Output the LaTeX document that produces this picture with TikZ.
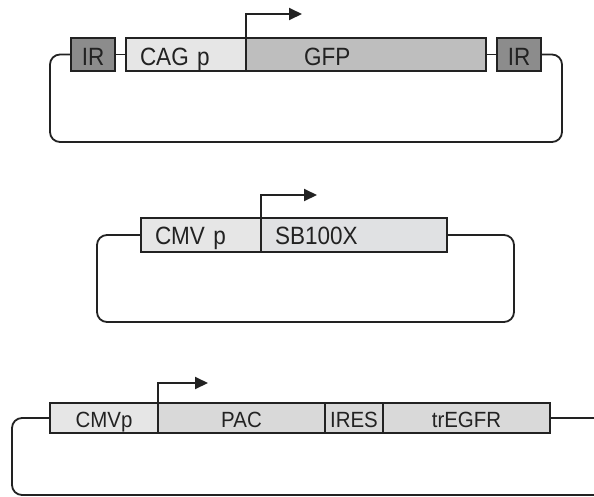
\documentclass[tikz,border=0pt]{standalone}
\usepackage{fontspec}
\setmainfont{Liberation Sans}
\newfontfamily\labfont[FakeStretch=0.9]{Liberation Sans}
\newfontfamily\labfontc[FakeStretch=0.93]{Liberation Sans}
\usetikzlibrary{arrows.meta}
\definecolor{lineC}{HTML}{222222}
\definecolor{irC}{HTML}{8C8C8C}
\definecolor{promC}{HTML}{E6E6E6}
\definecolor{gfpC}{HTML}{BEBEBE}
\definecolor{sbC}{HTML}{E0E1E3}
\definecolor{geneC}{HTML}{D9D9D9}
\begin{document}
\begin{tikzpicture}[x=1pt,y=-1pt,
  seg/.style={draw=lineC,line width=2.1pt,inner sep=0pt,outer sep=0pt,text=lineC},
  rowA/.style={seg,minimum height=33pt,font=\labfont\fontsize{25}{27}\selectfont,text height=21pt,text depth=0pt},
  rowB/.style={seg,minimum height=34pt,font=\labfont\fontsize{25}{27}\selectfont,text height=18pt,text depth=0pt},
  rowC/.style={seg,minimum height=30pt,font=\labfontc\fontsize{22}{24}\selectfont,text height=18pt,text depth=0pt},
  lefttext/.style 2 args={align=left,inner xsep=#1,text width=#2},
  loop/.style={draw=lineC,line width=1.8pt,rounded corners=10pt},
  link/.style={draw=lineC,line width=1.8pt},
  startarrow/.style={draw=lineC,line width=2pt,-{Triangle[length=13pt,width=12pt]}}
]
\useasboundingbox (0,0) rectangle (594,496);

% ---------- plasmid 1 ----------
\node[rowA,fill=irC,minimum width=44pt] (irL) at (93,54.5) {IR};
\node[rowA,fill=promC,minimum width=120pt,lefttext={14pt}{92pt}] (cag) at (186,54.5) {CAG p};
\node[rowA,fill=gfpC,minimum width=240pt,lefttext={58pt}{124pt}] (gfp) at (366,54.5) {GFP};
\node[rowA,fill=irC,minimum width=44pt] (irR) at (519,54.5) {IR};
\draw[link] (irL.east) -- (cag.west);
\draw[link] (gfp.east) -- (irR.west);
\coordinate (l1a) at (50,142);
\coordinate (l1b) at (562,142);
\draw[loop] (irL.west) -| (l1a) -- (l1b) |- (irR.east);
\coordinate (a1) at (302,14);
\draw[startarrow] (gfp.north west) |- (a1);

% ---------- plasmid 2 ----------
\node[rowB,fill=promC,minimum width=120pt,lefttext={14pt}{92pt}] (cmv) at (201,235) {CMV p};
\node[rowB,fill=sbC,minimum width=186pt,lefttext={14pt}{158pt}] (sb) at (354,235) {SB100X};
\coordinate (l2a) at (97,322);
\coordinate (l2b) at (514,322);
\draw[loop] (cmv.west) -| (l2a) -- (l2b) |- (sb.east);
\coordinate (a2) at (317,195);
\draw[startarrow] (sb.north west) |- (a2);

% ---------- plasmid 3 ----------
\node[rowC,fill=promC,minimum width=108pt] (cmvp) at (104,418) {CMVp};
\node[rowC,fill=geneC,minimum width=167pt] (pac) at (241.5,418) {PAC};
\node[rowC,fill=geneC,minimum width=58pt] (ires) at (354,418) {IRES};
\node[rowC,fill=geneC,minimum width=167pt] (tregfr) at (466.5,418) {trEGFR};
\coordinate (l3a) at (12,495);
\coordinate (l3b) at (604,495);
\draw[loop] (cmvp.west) -| (l3a) -- (l3b) |- (tregfr.east);
\coordinate (a3) at (208,383);
\draw[startarrow] (pac.north west) |- (a3);
\end{tikzpicture}
\end{document}
